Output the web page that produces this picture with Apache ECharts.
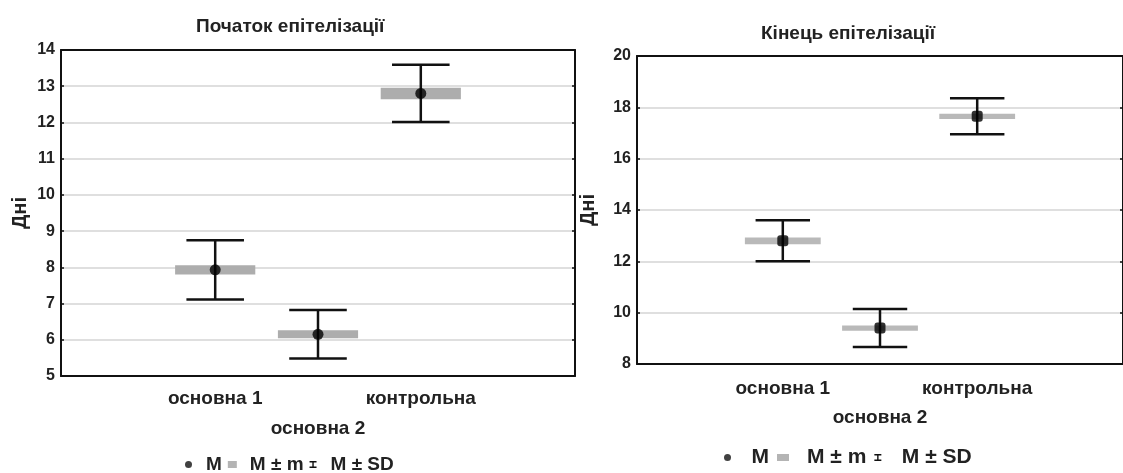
<!DOCTYPE html>
<html>
<head>
<meta charset="utf-8">
<script src="https://cdn.jsdelivr.net/npm/echarts@6/dist/echarts.min.js"></script>
<style>
  html, body { margin: 0; padding: 0; background: #fff; }
  #main { width: 1123px; height: 473px; }
</style>
</head>
<body>
<div id="main"></div>
<script>
// categories (empty slots at both ends, like the original plot)
const categories = ['', 'основна 1', 'основна 2', 'контрольна', ''];

// Початок епітелізації
const startMean = [7.93, 6.15, 12.8];
const startM = [0.13, 0.11, 0.16];
const startSD = [0.82, 0.67, 0.79];

// Кінець епітелізації
const endMean = [12.8, 9.4, 17.65];
const endM = [0.13, 0.1, 0.1];
const endSD = [0.8, 0.74, 0.7];

const FONT = "'Liberation Sans', Arial, sans-serif";
const whiskerIcon = 'path://M0,0H8V1.6H4.8V6.4H8V8H0V6.4H3.2V1.6H0Z';

const chart = echarts.init(document.getElementById('main'));

function rows(mean, spread) {
    return mean.map((v, i) => [i + 1, v, spread[i]]);
}

function renderBox(params, api) {
    const x = api.value(0), v = api.value(1), d = api.value(2);
    const hi = api.coord([x, v + d]);
    const lo = api.coord([x, v - d]);
    const bw = api.size([1, 0])[0];
    return {
        type: 'rect',
        shape: { x: hi[0] - bw * 0.39, y: hi[1], width: bw * 0.78, height: lo[1] - hi[1] },
        style: { fill: api.visual('color') }
    };
}

function renderWhisker(params, api) {
    const x = api.value(0), v = api.value(1), d = api.value(2);
    const hi = api.coord([x, v + d]);
    const lo = api.coord([x, v - d]);
    const half = api.size([1, 0])[0] * 0.28;
    const st = { stroke: '#111', lineWidth: 2.5 };
    return {
        type: 'group',
        children: [
            { type: 'line', shape: { x1: hi[0], y1: hi[1], x2: lo[0], y2: lo[1] }, style: st },
            { type: 'line', shape: { x1: hi[0] - half, y1: hi[1], x2: hi[0] + half, y2: hi[1] }, style: st },
            { type: 'line', shape: { x1: lo[0] - half, y1: lo[1], x2: lo[0] + half, y2: lo[1] }, style: st }
        ]
    };
}

function xAxes(gridIndex, margin, lh) {
    return [
        {
            gridIndex: gridIndex,
            type: 'category',
            data: categories,
            position: 'bottom',
            axisLine: { lineStyle: { color: '#111', width: 2 } },
            axisTick: { inside: true, length: 3, alignWithLabel: true, lineStyle: { color: '#111', width: 2 } },
            axisLabel: {
                interval: 0,
                margin: margin,
                lineHeight: lh,
                color: '#222',
                fontFamily: FONT,
                fontWeight: 'bold',
                fontSize: 19,
                formatter: (v, i) => i === 2 ? '\n' + v : v
            }
        },
        {
            gridIndex: gridIndex,
            type: 'category',
            data: categories,
            position: 'top',
            axisLine: { lineStyle: { color: '#111', width: 2 } },
            axisTick: { inside: true, length: 3, alignWithLabel: true, lineStyle: { color: '#111', width: 2 } },
            axisLabel: { show: false }
        }
    ];
}

function yAxes(gridIndex, min, max, step, nameGap) {
    return [
        {
            gridIndex: gridIndex,
            type: 'value',
            min: min,
            max: max,
            interval: step,
            name: 'Дні',
            nameLocation: 'middle',
            nameGap: nameGap,
            nameTextStyle: { fontFamily: FONT, fontWeight: 'bold', fontSize: 20, color: '#222' },
            axisLine: { show: true, lineStyle: { color: '#111', width: 2 } },
            axisTick: { show: true, inside: true, length: 3, lineStyle: { color: '#111', width: 1.5 } },
            axisLabel: { margin: 6, color: '#222', fontFamily: FONT, fontWeight: 'bold', fontSize: 16 },
            splitLine: { lineStyle: { color: '#d4d4d4', width: 1.5 } }
        },
        {
            gridIndex: gridIndex,
            type: 'value',
            min: min,
            max: max,
            interval: step,
            position: 'right',
            axisLine: { show: true, lineStyle: { color: '#111', width: 2 } },
            axisTick: { show: true, inside: true, length: 3, lineStyle: { color: '#111', width: 1.5 } },
            axisLabel: { show: false },
            splitLine: { show: false }
        }
    ];
}

function seriesFor(idx, mean, m, sd, boxColor, symbol) {
    return [
        {
            name: 'M ± m',
            type: 'custom',
            xAxisIndex: idx * 2,
            yAxisIndex: idx * 2,
            itemStyle: { color: boxColor },
            renderItem: renderBox,
            data: rows(mean, m),
            z: 2
        },
        {
            name: 'M ± SD',
            type: 'custom',
            xAxisIndex: idx * 2,
            yAxisIndex: idx * 2,
            itemStyle: { color: '#111' },
            renderItem: renderWhisker,
            data: rows(mean, sd),
            z: 3
        },
        {
            name: 'M',
            type: 'scatter',
            xAxisIndex: idx * 2,
            yAxisIndex: idx * 2,
            symbol: symbol,
            symbolSize: 11,
            itemStyle: { color: '#000' },
            data: mean.map((v, i) => [i + 1, v]),
            z: 4
        }
    ];
}

function legendAt(left, top, gap, iconW, textPad, fontSize) {
    return {
        left: left,
        top: top,
        itemWidth: iconW,
        itemHeight: 7,
        itemGap: gap,
        selectedMode: false,
        textStyle: { fontFamily: FONT, fontWeight: 'bold', fontSize: fontSize, color: '#222', padding: [0, 0, 0, textPad] },
        data: [
            { name: 'M', icon: 'circle', itemStyle: { color: '#111' } },
            { name: 'M ± m', icon: 'rect', itemStyle: { color: '#b4b4b4' } },
            { name: 'M ± SD', icon: whiskerIcon, itemStyle: { color: '#111' } }
        ]
    };
}

const option = {
    animation: false,
    title: [
        { text: 'Початок епітелізації', left: 191, top: 12,
          textStyle: { fontFamily: FONT, fontWeight: 'bold', fontSize: 19, color: '#222' } },
        { text: 'Кінець епітелізації', left: 756, top: 19,
          textStyle: { fontFamily: FONT, fontWeight: 'bold', fontSize: 19, color: '#222' } }
    ],
    grid: [
        { left: 61, top: 50, width: 514, height: 326 },
        { left: 637, top: 56, width: 494, height: 308 }
    ],
    xAxis: [].concat(xAxes(0, 8, 30), xAxes(1, 10, 29)),
    yAxis: [].concat(yAxes(0, 5, 14, 1, 31), yAxes(1, 8, 20, 2, 39)),
    legend: [legendAt(180, 450, 6, 9, 8, 19), legendAt(719, 442, 8, 12, 13, 21)],
    series: [].concat(
        seriesFor(0, startMean, startM, startSD, '#adadad', 'circle'),
        seriesFor(1, endMean, endM, endSD, '#b9b9b9', 'roundRect')
    )
};

chart.setOption(option);
</script>
</body>
</html>
